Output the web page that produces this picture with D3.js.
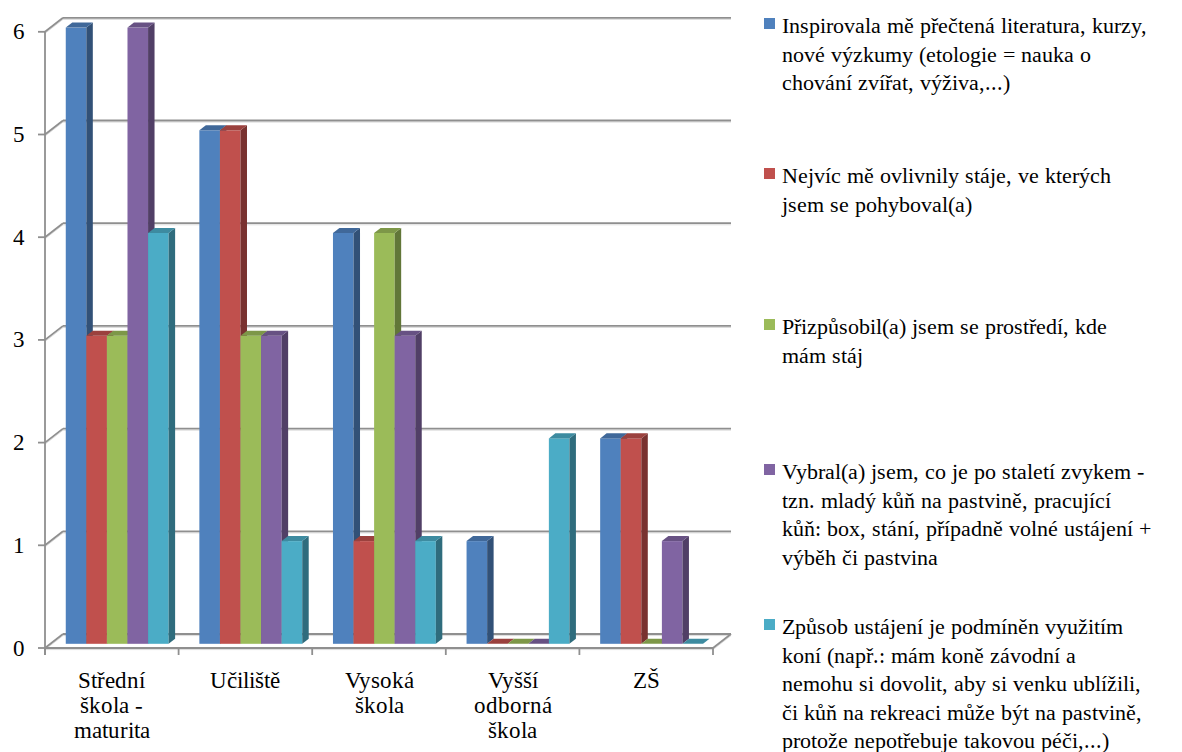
<!DOCTYPE html>
<html>
<head>
<meta charset="utf-8">
<script src="https://cdnjs.cloudflare.com/ajax/libs/d3/7.8.5/d3.min.js"></script>
<style>
  @font-face { font-family: "ChartSerif"; src: local("Liberation Serif"), local("LiberationSerif"), local("Times New Roman"); }
  body { margin: 0; background: #fff; }
  svg text { font-family: "ChartSerif", "Liberation Serif", "Times New Roman", serif; }
</style>
</head>
<body>
<div id="chart-area"></div>
<script>
// categories (each label split in lines as shown)
const categories = ["Střední škola - maturita", "Učiliště", "Vysoká škola", "Vyšší odborná škola", "ZŠ"];
const categoryLines = [["Střední", "škola -", "maturita"], ["Učiliště"], ["Vysoká", "škola"], ["Vyšší", "odborná", "škola"], ["ZŠ"]];

// one array of values per series, in category order
const inspirovala = [6, 5, 4, 1, 2];
const ovlivnily = [3, 5, 1, 0, 2];
const prizpusobil = [3, 3, 4, 0, 0];
const vybral = [6, 3, 3, 0, 1];
const zpusob = [4, 1, 1, 2, 0];

const seriesLines = [
    ["Inspirovala mě přečtená literatura, kurzy,", "nové výzkumy (etologie = nauka o", "chování zvířat, výživa,...)"],
    ["Nejvíc mě ovlivnily stáje, ve kterých", "jsem se pohyboval(a)"],
    ["Přizpůsobil(a) jsem se prostředí, kde", "mám stáj"],
    ["Vybral(a) jsem, co je po staletí zvykem -", "tzn. mladý kůň na pastvině, pracující", "kůň: box, stání, případně volné ustájení +", "výběh či pastvina"],
    ["Způsob ustájení je podmíněn využitím", "koní (např.: mám koně závodní a", "nemohu si dovolit, aby si venku ublížili,", "či kůň na rekreaci může být na pastvině,", "protože nepotřebuje takovou péči,...)"]
];
const seriesValues = [inspirovala, ovlivnily, prizpusobil, vybral, zpusob];
const colors = ["#4F81BD", "#C0504D", "#9BBB59", "#8064A2", "#4BACC6"];
const yTicks = [0, 1, 2, 3, 4, 5, 6];

const FONT = '"ChartSerif", "Liberation Serif", "Times New Roman", serif';

class Column3D {
    constructor(parentelement) {
        this.parentelement = parentelement;
        this.initVis();
    }

    initVis() {
        const vis = this;
        vis.svg = d3.select(vis.parentelement).append("svg")
            .attr("width", 1182)
            .attr("height", 752);

        // front plane of the box
        vis.left = 45; vis.right = 713; vis.floor = 648;
        // depth of the box and of the bars
        vis.dx = 18; vis.dy = -14;
        vis.f0 = 0.3; vis.f1 = 0.36;

        vis.y = d3.scaleLinear().domain([0, 6]).range([vis.floor, 31.8]);
        vis.x = d3.scaleBand().domain(categories).range([vis.left, vis.right]);
        const pad = vis.x.bandwidth() * 0.115;
        vis.xs = d3.scaleBand().domain(d3.range(5)).range([pad, vis.x.bandwidth() - pad]);

        vis.drawWalls();
        vis.drawBars();
        vis.drawAxes();
        vis.drawLegend();
    }

    drawWalls() {
        const vis = this;
        const g = vis.svg.append("g");
        const grid = (x1, y1, x2, y2) => {
            g.append("line").attr("x1", x1).attr("y1", y1 + 1.6).attr("x2", x2).attr("y2", y2 + 1.6)
                .attr("stroke", "#dcdcdc").attr("stroke-width", 1);
            g.append("line").attr("x1", x1).attr("y1", y1).attr("x2", x2).attr("y2", y2)
                .attr("stroke", "#8f8f8f").attr("stroke-width", 1.8);
        };
        yTicks.forEach(v => {
            const yf = vis.y(v);
            grid(vis.left, yf, vis.left + vis.dx, yf + vis.dy);
            grid(vis.left + vis.dx, yf + vis.dy, vis.right + vis.dx, yf + vis.dy);
        });
        // floor front edge and right edge
        grid(vis.left, vis.floor, vis.right, vis.floor);
        grid(vis.right, vis.floor, vis.right + vis.dx, vis.floor + vis.dy);
    }

    drawBars() {
        const vis = this;
        const ox = vis.dx * vis.f0, oy = vis.dy * vis.f0;
        const bx = vis.dx * vis.f1, by = vis.dy * vis.f1;
        const w = vis.xs.bandwidth();

        categories.forEach((c, ci) => {
            const g = vis.svg.append("g");
            seriesValues.forEach((vals, si) => {
                const col = d3.color(colors[si]);
                const x0 = vis.x(c) + vis.xs(si) + ox;
                const yb = vis.y(0) + oy;
                const yt = vis.y(vals[ci]) + oy;
                if (vals[ci] > 0) {
                    g.append("rect").attr("x", x0).attr("y", yt).attr("width", w).attr("height", yb - yt)
                        .attr("fill", col.formatHex());
                    g.append("path")
                        .attr("d", `M${x0 + w},${yt}L${x0 + w + bx},${yt + by}L${x0 + w + bx},${yb + by}L${x0 + w},${yb}Z`)
                        .attr("fill", col.darker(1.3).formatHex());
                }
                g.append("path")
                    .attr("d", `M${x0},${yt}L${x0 + bx},${yt + by}L${x0 + w + bx},${yt + by}L${x0 + w},${yt}Z`)
                    .attr("fill", col.darker(0.6).formatHex());
            });
        });
    }

    drawAxes() {
        const vis = this;
        const g = vis.svg.append("g");
        g.append("line").attr("x1", vis.left).attr("x2", vis.left)
            .attr("y1", vis.y(6)).attr("y2", vis.floor + 7)
            .attr("stroke", "#8f8f8f").attr("stroke-width", 1.8);

        g.selectAll(".ytick").data(yTicks).join("line")
            .attr("x1", vis.left - 7).attr("x2", vis.left)
            .attr("y1", d => vis.y(d)).attr("y2", d => vis.y(d))
            .attr("stroke", "#8f8f8f").attr("stroke-width", 1.8);
        g.selectAll(".ylab").data(yTicks).join("text")
            .attr("x", 25).attr("y", d => vis.y(d))
            .attr("dy", "0.33em").attr("text-anchor", "end")
            .style("font-family", FONT).style("font-size", "23px")
            .text(d => d);

        const edges = categories.map(c => vis.x(c)).concat([vis.right]);
        g.selectAll(".xtick").data(edges).join("line")
            .attr("x1", d => d).attr("x2", d => d)
            .attr("y1", vis.floor).attr("y2", vis.floor + 7)
            .attr("stroke", "#8f8f8f").attr("stroke-width", 1.8);

        categories.forEach((c, i) => {
            const t = g.append("text")
                .attr("text-anchor", "middle")
                .style("font-family", FONT).style("font-size", "23px");
            categoryLines[i].forEach((line, j) => {
                t.append("tspan")
                    .attr("x", vis.x(c) + vis.x.bandwidth() / 2)
                    .attr("y", 688 + j * 25)
                    .text(line);
            });
        });
    }

    drawLegend() {
        const vis = this;
        const tops = [26, 176, 327, 472, 627];
        const g = vis.svg.append("g");
        seriesLines.forEach((lines, i) => {
            g.append("rect").attr("x", 764).attr("y", tops[i] - 8)
                .attr("width", 11).attr("height", 11)
                .attr("fill", colors[i]);
            const t = g.append("text").style("font-family", FONT).style("font-size", "21.5px");
            lines.forEach((line, j) => {
                t.append("tspan").attr("x", 782).attr("y", tops[i] + 7 + j * 28.5).text(line);
            });
        });
    }
}

new Column3D("#chart-area");
</script>
</body>
</html>
